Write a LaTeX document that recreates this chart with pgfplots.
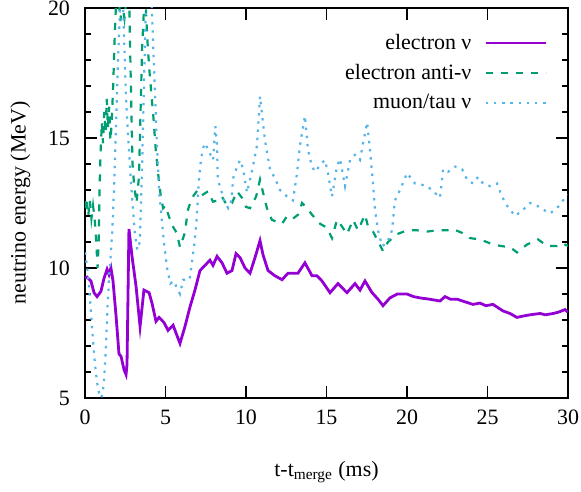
\documentclass[border=0pt]{standalone}
\usepackage{fontspec}
\setmainfont{Liberation Serif}
\usepackage{pgfplots}
\pgfplotsset{compat=1.18}
\usetikzlibrary{calc}

\definecolor{evcol}{HTML}{9400D3}
\definecolor{eacol}{HTML}{009E73}
\definecolor{mucol}{HTML}{56B4E9}

\begin{document}
\begin{tikzpicture}
\begin{axis}[
  scale only axis,
  width=241.5bp, height=195bp,
  xmin=0, xmax=30, ymin=5, ymax=20,
  xtick={0,5,...,30}, ytick={5,10,15,20},
  minor y tick num=4,
  tick align=inside,
  major tick length=6bp, minor tick length=3bp,
  axis line style={line width=0.9bp},
  tick style={line width=0.9bp, black},
  /pgf/number format/assume math mode=true,
  ticklabel style={font=\fontsize{11}{13}\selectfont},
  xticklabel style={yshift=-2.5bp},
  yticklabel style={xshift=-4bp},
  xlabel={t-t\textsubscript{merge} (ms)},
  ylabel={neutrino energy (MeV)},
  label style={font=\fontsize{11}{13}\selectfont},
  xlabel style={yshift=-11.5bp},
  ylabel style={yshift=2bp},
  legend style={draw=none, fill=none, at={(0.97,0.955)}, anchor=north east,
    font=\fontsize{11}{13}\selectfont, row sep=2bp},
  legend cell align=right,
  legend plot pos=right,
  legend image code/.code={\path (-4.5bp,0bp); \draw[#1] plot coordinates {(0bp,0bp) (30bp,0bp)};},
]

% electron nu
\addplot[evcol, line width=1.4bp] coordinates {
(0.00,9.6) (0.12,9.65) (0.37,9.5) (0.56,9.05) (0.75,8.9) (0.99,9.1) (1.18,9.6)
(1.37,9.95) (1.49,9.75) (1.61,10.0) (1.74,9.5) (1.93,8.15) (2.11,6.7) (2.24,6.6)
(2.42,6.1) (2.55,5.9) (2.61,6.3) (2.73,11.5) (2.92,10.45) (3.17,9.3) (3.42,7.75)
(3.66,9.15) (3.98,9.05) (4.16,8.65) (4.41,7.95) (4.60,8.1) (4.91,7.9) (5.16,7.6)
(5.47,7.8) (5.90,7.1) (6.21,7.75) (6.52,8.5) (6.83,9.15) (7.14,9.9) (7.45,10.1)
(7.76,10.3) (7.95,10.1) (8.20,10.45) (8.51,10.2) (8.82,9.8) (9.13,9.9) (9.38,10.55)
(9.63,10.4) (9.94,10.0) (10.25,9.8) (10.56,10.4) (10.87,11.05) (11.06,10.5)
(11.37,9.9) (11.80,9.7) (12.24,9.55) (12.61,9.8) (13.23,9.8) (13.66,10.2)
(14.10,9.7) (14.41,9.7) (14.72,9.5) (15.22,9.05) (15.71,9.4) (16.27,9.05)
(16.77,9.4) (17.08,9.15) (17.39,9.5) (17.83,9.05) (18.20,8.8) (18.51,8.55)
(18.94,8.85) (19.4,9.0) (20.00,9.0) (20.4,8.9) (20.81,8.85) (21.4,8.8) (22.05,8.73)
(22.36,8.9) (22.7,8.8) (23.11,8.8) (23.6,8.7) (24.10,8.6) (24.53,8.65) (24.9,8.55)
(25.34,8.6) (25.96,8.35) (26.4,8.25) (26.83,8.1) (27.20,8.15) (27.64,8.2)
(28.26,8.25) (28.6,8.2) (29.07,8.25) (29.4,8.3) (29.81,8.4) (30.0,8.3)
};
\addlegendentry{electron ν}

% electron anti-nu
\addplot[eacol, line width=1.1bp, dash pattern=on 3.5bp off 4bp] coordinates {
(0.00,12.3) (0.1,12.7) (0.2,12.0) (0.3,12.6) (0.4,11.9) (0.5,12.4) (0.6,11.9)
(0.7,11.0) (0.78,10.0) (0.85,11.0) (0.9,13.0) (0.97,14.5) (1.05,15.6) (1.12,14.8)
(1.2,16.0) (1.28,15.2) (1.35,16.5) (1.42,15.4) (1.5,16.2) (1.58,14.9) (1.65,15.5)
(1.75,17.0) (1.85,19.0) (1.95,20.5) (2.1,20.3) (2.2,19.5) (2.3,20.2) (2.45,19.6)
(2.6,20.5) (2.75,20.2) (2.85,17.0) (2.95,14.0) (3.05,13.2) (3.2,12.5) (3.35,13.5)
(3.45,16.0) (3.55,18.5) (3.65,19.8) (3.75,20.3) (3.9,18.5) (4.0,17.6) (4.15,16.5)
(4.25,15.8) (4.4,14.5) (4.55,13.6) (4.7,12.8) (4.85,12.3) (5.0,12.4) (5.15,12.1)
(5.4,11.65) (5.7,11.35) (5.9,10.8) (6.2,11.35) (6.4,12.25) (6.65,12.7) (7.0,13.0)
(7.27,12.8) (7.64,12.95) (7.95,12.55) (8.26,12.6) (8.5,12.75) (8.82,12.4)
(9.13,12.5) (9.44,12.95) (9.75,12.7) (10.0,12.35) (10.25,12.3) (10.63,12.75)
(10.87,13.4) (11.06,12.9) (11.3,12.3) (11.61,11.85) (12.24,11.7) (12.55,12.0)
(12.92,11.9) (13.23,12.05) (13.48,12.5) (13.79,12.3) (14.1,12.05) (14.6,11.7)
(15.03,11.55) (15.34,11.15) (15.65,11.85) (15.96,11.6) (16.27,11.3) (16.65,11.85)
(16.96,11.45) (17.39,12.05) (17.58,11.6) (17.89,11.4) (18.14,11.1) (18.51,10.65)
(18.82,11.0) (19.38,11.3) (20.0,11.45) (20.62,11.45) (21.24,11.4) (21.86,11.45)
(22.48,11.45) (22.86,11.5) (23.42,11.35) (23.91,11.15) (24.53,11.1) (25.16,10.95)
(25.78,10.85) (26.4,10.8) (26.83,10.6) (27.45,10.9) (28.14,11.1) (28.7,10.85)
(29.32,10.85) (29.63,10.95) (30.0,10.85)
};
\addlegendentry{electron anti-ν}

% muon/tau nu
\addplot[mucol, line width=1.1bp, dash pattern=on 1.2bp off 2.9bp] coordinates {
(0.0,10.6) (0.12,10.1) (0.25,9.3) (0.37,8.3) (0.5,7.2) (0.62,6.3) (0.75,5.6)
(0.87,5.2) (1.0,5.0) (1.1,5.2) (1.2,5.8) (1.3,7.0) (1.4,8.5) (1.5,9.7) (1.6,10.5)
(1.7,11.5) (1.8,13.0) (1.9,15.0) (2.0,17.0) (2.1,18.8) (2.2,20.3) (2.35,20.5)
(2.45,18.5) (2.55,16.5) (2.65,15.4) (2.8,13.8) (2.95,12.5) (3.1,11.3) (3.25,10.7)
(3.4,11.0) (3.55,14.0) (3.7,18.0) (3.8,20.5) (4.0,21.0) (4.15,20.0) (4.3,17.5)
(4.45,15.0) (4.6,13.0) (4.75,12.0) (4.9,11.0) (5.1,10.0) (5.3,9.4) (5.5,9.5)
(5.9,9.0) (6.1,9.55) (6.5,9.55) (6.8,10.95) (6.95,12.0) (7.05,13.15) (7.15,13.9)
(7.3,14.55) (7.45,14.8) (7.65,14.55) (7.95,14.15) (8.1,15.45) (8.2,14.7)
(8.25,13.4) (8.5,12.9) (8.7,12.5) (8.9,12.3) (9.1,12.6) (9.2,13.45) (9.45,13.9)
(9.63,14.15) (9.82,13.8) (10.06,12.9) (10.43,13.9) (10.68,14.7) (10.87,16.6)
(11.18,14.9) (11.49,13.8) (11.8,13.45) (12.11,13.0) (12.55,12.75) (12.92,12.6)
(13.17,13.65) (13.35,14.7) (13.66,15.85) (13.85,14.55) (14.1,13.9) (14.29,13.7)
(14.72,14.05) (14.91,14.15) (15.09,13.65) (15.34,12.75) (15.65,13.9) (15.84,14.2)
(16.15,13.15) (16.46,14.15) (16.77,14.35) (17.08,14.15) (17.27,14.8) (17.52,15.6)
(17.7,14.55) (17.89,13.25) (18.01,12.25) (18.2,11.45) (18.45,10.85) (18.76,10.95)
(19.07,11.45) (19.25,12.6) (19.57,13.0) (20.0,13.65) (20.19,13.5) (20.5,13.25)
(20.93,13.2) (21.24,13.15) (21.55,13.0) (22.05,12.7) (22.24,13.8) (22.55,13.7)
(22.98,13.9) (23.42,13.8) (23.73,13.4) (24.1,13.25) (24.41,13.5) (24.72,13.25)
(25.16,13.15) (25.59,13.25) (25.9,12.75) (26.21,12.4) (26.71,12.0) (27.14,12.2)
(27.64,12.5) (28.07,12.4) (28.45,12.25) (28.88,12.1) (29.32,12.3) (29.69,12.6)
(30.0,12.8)
};
\addlegendentry{muon/tau ν}

\end{axis}
\pgfresetboundingbox
\path[use as bounding box] ($(current axis.south west)+(-42.5bp,-47bp)$) rectangle ($(current axis.north east)+(6.5bp,4bp)$);
\end{tikzpicture}
\end{document}
